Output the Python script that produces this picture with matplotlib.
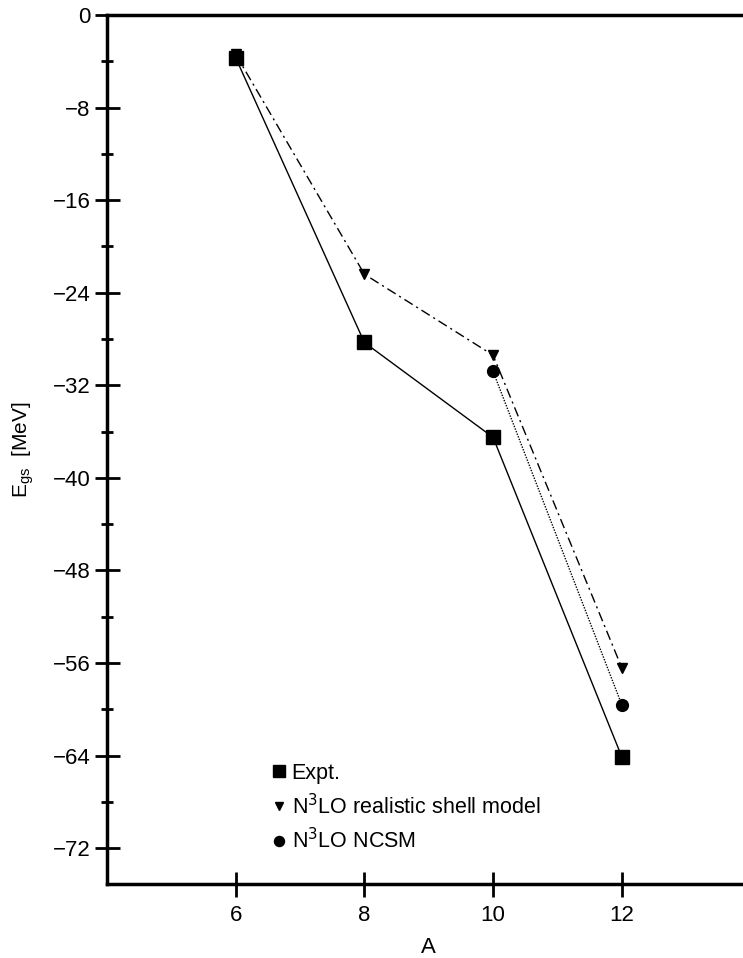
import numpy as np
import matplotlib.pyplot as plt
from matplotlib.ticker import MultipleLocator

plt.rcParams['font.family'] = ['Liberation Sans', 'DejaVu Sans']

A = [6, 8, 10, 12]
expt = [-3.7, -28.3, -36.5, -64.1]          # Expt.
shell_A = [6, 8, 10, 12]
shell = [-3.4, -22.4, -29.4, -56.4]          # N3LO realistic shell model
ncsm_A = [10, 12]
ncsm = [-30.8, -59.6]                        # N3LO NCSM

fig = plt.figure(figsize=(7.43, 9.58), dpi=100)
ax = fig.add_axes([107/743, 1 - 884/958, 1 - 107/743 + 0.01, (884 - 15)/958])

ax.plot(shell_A, shell, color='k', lw=1.0, ls=(0, (7, 3, 1.5, 3)), marker='v', ms=7,
        label=r'N$^3$LO realistic shell model')
ax.plot(ncsm_A, ncsm, color='k', lw=1.0, ls=(0, (1, 1)), marker='o', ms=8.5,
        label=r'N$^3$LO NCSM')
ax.plot(A, expt, color='k', lw=1.0, ls='-', marker='s', ms=9.5, label='Expt.')

ax.set_xlim(4, 14)
ax.set_ylim(-75.1, 0)
ax.set_xticks([6, 8, 10, 12])
ax.yaxis.set_major_locator(MultipleLocator(8))
ax.yaxis.set_minor_locator(MultipleLocator(4))
ax.set_yticklabels([f'{int(v)}'.replace('-', '\u2212') for v in ax.get_yticks()])

for s in ['left', 'bottom', 'top']:
    ax.spines[s].set_linewidth(2.5)
ax.spines['right'].set_visible(False)
ax.tick_params(which='major', direction='inout', length=18, width=2, labelsize=16, pad=3)
ax.tick_params(which='minor', direction='inout', length=9, width=2)
ax.tick_params(axis='x', top=False, pad=6)
ax.tick_params(axis='x', which='minor', bottom=False)

ax.set_xlabel('A', fontsize=16, labelpad=8)
ax.set_ylabel(r'E$_{\mathregular{gs}}$  [MeV]', fontsize=15, labelpad=12)

h, l = ax.get_legend_handles_labels()
order = [2, 0, 1]
leg_h = []
for i in order:
    ln = plt.Line2D([], [], color='k', ls='none', marker=h[i].get_marker(),
                    ms=h[i].get_markersize() * 0.85)
    leg_h.append(ln)
ax.legend(leg_h, [l[i] for i in order], loc='lower left', bbox_to_anchor=(0.245, 0.025),
          frameon=False, fontsize=15.5, handlelength=0.5, handletextpad=0.35,
          labelspacing=0.45, borderaxespad=0)

fig.savefig('out.png', dpi=100)
